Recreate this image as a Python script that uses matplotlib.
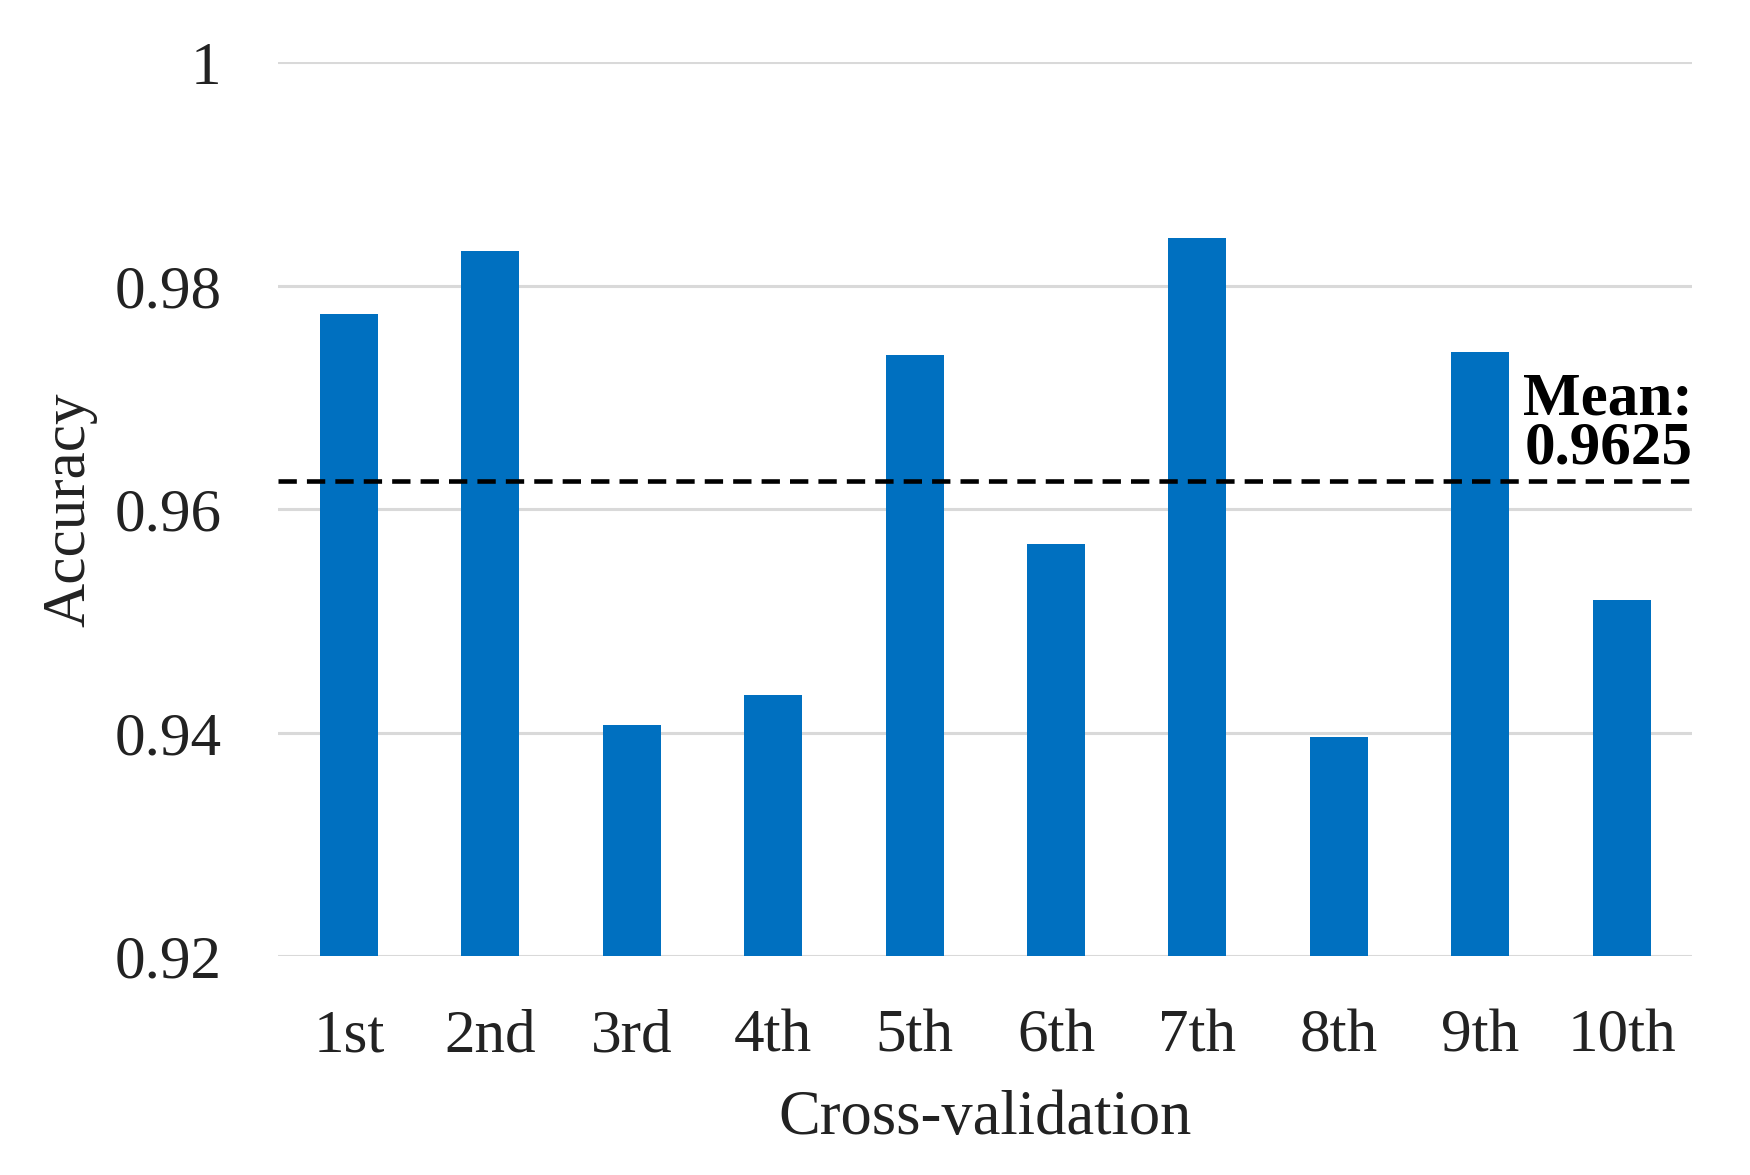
import matplotlib
matplotlib.use("Agg")
import matplotlib.pyplot as plt
import numpy as np

categories = ["1st", "2nd", "3rd", "4th", "5th", "6th", "7th", "8th", "9th", "10th"]
accuracy = [0.9775, 0.9831, 0.9407, 0.9434, 0.9738, 0.9569, 0.9843, 0.9396, 0.9741, 0.9519]
mean_value = 0.9625
yticks = [0.92, 0.94, 0.96, 0.98, 1.0]
ytick_labels = ["0.92", "0.94", "0.96", "0.98", "1"]

plt.rcParams['font.family'] = ['Liberation Serif', 'DejaVu Serif']

fig = plt.figure(figsize=(17.5, 11.75), dpi=100)
ax = fig.add_axes([0.159, 0.186, 0.808, 0.761])

x = np.arange(len(categories))
ax.bar(x, accuracy, width=0.41, color="#0070C0", zorder=3)
ax.axhline(mean_value, color="black", linestyle=(0, (4, 2.2)), linewidth=3.3, zorder=4)

ax.set_ylim(0.92, 1.0)
ax.set_xlim(-0.5, len(categories) - 0.5)
ax.set_yticks(yticks)
ax.set_yticklabels(ytick_labels)
ax.set_xticks(x)
ax.set_xticklabels(categories)
ax.yaxis.grid(True, color="#d9d9d9", linewidth=2.2, zorder=0)
ax.tick_params(axis="both", length=0, labelsize=44, colors="#222222")
ax.tick_params(axis="y", pad=41)
ax.tick_params(axis="x", pad=38)
for s in ax.spines.values():
    s.set_visible(False)

ax.set_ylabel("Accuracy", fontsize=44, labelpad=12, color="#222222")
ax.set_xlabel("Cross-validation", fontsize=45, labelpad=18, color="#222222")

ax.text(len(categories) - 0.5, mean_value + 0.0004, "Mean:\n0.9625",
        ha="right", va="bottom", fontsize=44, fontweight="bold",
        linespacing=0.84, zorder=5)

fig.savefig("out.png", dpi=100)
